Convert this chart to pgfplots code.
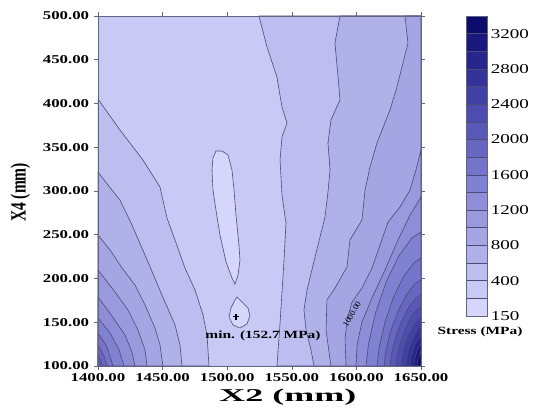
\documentclass[border=0pt]{standalone}
\usepackage{fontspec}
\setmainfont{Liberation Serif}
\usepackage{pgfplots}
\pgfplotsset{compat=1.18}

% band colours, light (150-200) to dark (3200-3400)
\definecolor{c0}{RGB}{214,214,252}
\definecolor{c1}{RGB}{201,201,246}
\definecolor{c2}{RGB}{189,189,240}
\definecolor{c3}{RGB}{177,177,234}
\definecolor{c4}{RGB}{165,165,228}
\definecolor{c5}{RGB}{153,153,222}
\definecolor{c6}{RGB}{141,141,216}
\definecolor{c7}{RGB}{129,129,209}
\definecolor{c8}{RGB}{116,116,202}
\definecolor{c9}{RGB}{103,103,194}
\definecolor{c10}{RGB}{88,88,182}
\definecolor{c11}{RGB}{77,77,175}
\definecolor{c12}{RGB}{64,64,165}
\definecolor{c13}{RGB}{51,51,153}
\definecolor{c14}{RGB}{38,38,140}
\definecolor{c15}{RGB}{25,25,125}
\definecolor{c16}{RGB}{12,12,108}
\definecolor{cline}{RGB}{75,75,115}
\definecolor{cframe}{RGB}{100,100,130}

\pgfplotsset{band/.style={fill=#1, draw=cline, line width=0.6pt}}

\begin{document}
\begin{tikzpicture}
\path[use as bounding box] (0,0) rectangle (533pt,408pt);

\begin{axis}[
    at={(98pt,42pt)}, anchor=south west,
    scale only axis, width=323pt, height=350pt,
    xmin=1400, xmax=1650, ymin=100, ymax=500,
    xtick={1400,1450,1500,1550,1600,1650},
    xticklabels={1400.00,1450.00,1500.00,1550.00,1600.00,1650.00},
    ytick={100,150,200,250,300,350,400,450,500},
    yticklabels={100.00,150.00,200.00,250.00,300.00,350.00,400.00,450.00,500.00},
    tick align=outside, major tick length=4pt,
    axis line style={cframe, line width=0.6pt},
    tick style={cframe, line width=0.6pt},
    ticklabel style={font=\fontsize{12}{12}\selectfont\bfseries, xscale=1.4},
    axis on top,
    axis background/.style={fill=c1},
    xlabel={X2 (mm)},
    xlabel style={at={(axis description cs:0.588,-0.09)}, anchor=center,
        font=\fontsize{18}{18}\selectfont\bfseries, xscale=2.0},
    ylabel={X4 (mm)},
    ylabel style={at={(axis description cs:-0.24,0.496)}, anchor=center,
        font=\fontsize{15.5}{15.5}\selectfont\bfseries, yscale=1.4},
]
% left group (rising toward 1400/100)
\addplot[band=c2] coordinates {(1400,405.1)(1417,369.7)(1434.8,335.4)(1448,304.6)(1453.4,269.1)(1459.6,244)(1467.3,212)(1475.1,186.9)(1481.3,158.3)(1484.4,135.4)(1485.9,100)(1400,100)} -- cycle;
\addplot[band=c3] coordinates {(1400,321.7)(1407.7,306.9)(1417,289.7)(1426.3,261.1)(1438.7,218.9)(1449.5,181.1)(1459.6,146.9)(1463.5,124)(1465,100)(1400,100)} -- cycle;
\addplot[band=c4] coordinates {(1400,249.7)(1409.3,232.6)(1418.6,212)(1428.6,192.6)(1436.4,169.7)(1444.1,143.4)(1448,124)(1450.3,100)(1400,100)} -- cycle;
\addplot[band=c5] coordinates {(1400,209.7)(1413.2,184.6)(1423.2,164)(1431,141.1)(1436.4,118.3)(1437.9,100)(1400,100)} -- cycle;
\addplot[band=c6] coordinates {(1400,178.9)(1410.8,157.1)(1420.9,135.4)(1426.3,116)(1428.6,100)(1400,100)} -- cycle;
\addplot[band=c7] coordinates {(1400,154.9)(1409.3,137.7)(1416.3,118.3)(1420.1,100)(1400,100)} -- cycle;
\addplot[band=c8] coordinates {(1400,137.7)(1407,121.7)(1411.6,100)(1400,100)} -- cycle;
\addplot[band=c9] coordinates {(1400,124)(1404.6,111.4)(1407,100)(1400,100)} -- cycle;
\addplot[band=c10] coordinates {(1400,112.6)(1402.3,105.7)(1403.1,100)(1400,100)} -- cycle;

% right group (rising toward 1650/100)
\addplot[band=c2] coordinates {(1524.6,500)(1530.8,464.6)(1538.5,430.3)(1542.4,396)(1546.3,377.7)(1542.4,361.7)(1540.9,335.4)(1542.4,295.4)(1545.5,263.4)(1544,221.1)(1540.9,149.1)(1538.5,100)(1650,100)(1650,500)} -- cycle;
\addplot[band=c3] coordinates {(1587.3,500)(1583.4,469.1)(1585.8,430.3)(1587.3,404)(1580.3,381.1)(1578,354.9)(1579.6,324)(1578,298.9)(1575.7,270.3)(1568,224.6)(1561.8,186.9)(1559.4,164)(1561,141.1)(1564.9,118.3)(1567.2,100)(1650,100)(1650,500)} -- cycle;
\addplot[band=c4] coordinates {(1637.6,500)(1639.9,469.1)(1635.3,441.7)(1630.7,415.4)(1626,392.6)(1615.9,354.9)(1610.5,327.4)(1606.7,301.1)(1604.3,266.9)(1595,244)(1592.7,213.1)(1583.4,189.1)(1577.2,175.4)(1576.5,141.1)(1580.3,100)(1650,100)(1650,500)} -- cycle;
\addplot[band=c5] coordinates {(1650,346.9)(1646.1,324)(1641.5,301.1)(1633.7,281.7)(1624.5,264.6)(1618.3,238.3)(1612.1,212)(1604.3,189.1)(1596.6,173.1)(1592.7,152.6)(1591.2,129.7)(1592,100)(1650,100)} -- cycle;
\addplot[band=c6] coordinates {(1650,293.1)(1641.5,272.6)(1632.2,244)(1622.1,209.7)(1612.1,177.7)(1604.3,150.3)(1600.5,124)(1599.7,100)(1650,100)} -- cycle;
\addplot[band=c7] coordinates {(1650,253.1)(1643,246.3)(1633.1,226.5)(1623.2,196.5)(1614.8,160.8)(1609.4,125.3)(1607.4,100)(1650,100)} -- cycle;
\addplot[band=c8] coordinates {(1650,223.4)(1644.4,217.9)(1636.5,202)(1628.5,177.8)(1621.9,149)(1617.5,120.4)(1615.9,100)(1650,100)} -- cycle;
\addplot[band=c9] coordinates {(1650,198.3)(1645.3,193.9)(1638.6,181.2)(1632,161.9)(1626.3,139)(1622.7,116.2)(1621.4,100)(1650,100)} -- cycle;
\addplot[band=c10] coordinates {(1650,181.1)(1646,177.5)(1640.5,167)(1634.9,151.1)(1630.2,132.2)(1627.1,113.4)(1626,100)(1650,100)} -- cycle;
\addplot[band=c11] coordinates {(1650,167.4)(1646.8,164.4)(1642.3,155.7)(1637.8,142.5)(1634,126.8)(1631.5,111.1)(1630.7,100)(1650,100)} -- cycle;
\addplot[band=c12] coordinates {(1650,154.9)(1647.4,152.4)(1643.9,145.3)(1640.2,134.6)(1637.2,121.8)(1635.2,109.1)(1634.5,100)(1650,100)} -- cycle;
\addplot[band=c13] coordinates {(1650,144.6)(1648.1,142.6)(1645.4,136.8)(1642.7,128.1)(1640.4,117.7)(1638.9,107.4)(1638.4,100)(1650,100)} -- cycle;
\addplot[band=c14] coordinates {(1650,134.3)(1648.6,132.7)(1646.6,128.3)(1644.6,121.6)(1643,113.6)(1641.9,105.7)(1641.5,100)(1650,100)} -- cycle;
\addplot[band=c15] coordinates {(1650,125.1)(1649.1,124)(1647.8,120.8)(1646.6,115.8)(1645.5,110)(1644.8,104.1)(1644.6,100)(1650,100)} -- cycle;
\addplot[band=c16] coordinates {(1650,116)(1649.5,115.3)(1648.8,113.2)(1648,110.1)(1647.4,106.4)(1647,102.6)(1646.9,100)(1650,100)} -- cycle;

% closed contours below 200 MPa
\addplot[band=c0] coordinates {(1491.3,345.7)(1496,345.7)(1500.6,341.1)(1503.7,324)(1505.3,301.1)(1506.8,272.6)(1509.1,238.3)(1509.9,221.1)(1508.4,204)(1506,193.7)(1503.7,200.6)(1499.1,218.9)(1494.4,249.7)(1491.3,278.3)(1489,301.1)(1488.2,324)(1489,337.7)} -- cycle;
\addplot[band=c0] coordinates {(1507.6,178.9)(1511.5,173.1)(1516.1,166.3)(1517.6,157.1)(1515.3,148)(1509.9,143.4)(1504.5,146.9)(1501.4,156)(1502.9,166.3)(1506,175.4)} -- cycle;

% minimum
\addplot[only marks, mark=+, mark size=3pt, black, line width=1.1pt] coordinates {(1506.8,156.3)};
\node[font=\fontsize{11}{11}\selectfont\bfseries, xscale=1.4] at (axis cs:1527.7,134.3) {min. (152.7 MPa)};
\node[font=\fontsize{8.5}{8.5}\selectfont, rotate=60, inner sep=0.5pt] at (axis cs:1596.6,159.4) {1000.00};
\end{axis}

% colour scale
\begin{axis}[
    at={(466pt,92pt)}, anchor=south west,
    scale only axis, width=21pt, height=300pt,
    xmin=0, xmax=1, ymin=0, ymax=17,
    xtick=\empty,
    ytick={0,2,4,6,8,10,12,14,16},
    yticklabels={150,400,800,1200,1600,2000,2400,2800,3200},
    yticklabel pos=right, major tick length=0pt,
    yticklabel style={font=\fontsize{13.6}{13.6}\selectfont, xscale=1.4, inner xsep=2.5pt},
    axis line style={cframe, line width=0.5pt},
    axis on top,
    xlabel={Stress (MPa)},
    xlabel style={at={(axis description cs:0.667,-0.053)}, anchor=center,
        font=\fontsize{11}{11}\selectfont\bfseries, xscale=1.4},
]
\addplot[band=c0] coordinates {(0,0)(1,0)(1,1)(0,1)} -- cycle;
\addplot[band=c1] coordinates {(0,1)(1,1)(1,2)(0,2)} -- cycle;
\addplot[band=c2] coordinates {(0,2)(1,2)(1,3)(0,3)} -- cycle;
\addplot[band=c3] coordinates {(0,3)(1,3)(1,4)(0,4)} -- cycle;
\addplot[band=c4] coordinates {(0,4)(1,4)(1,5)(0,5)} -- cycle;
\addplot[band=c5] coordinates {(0,5)(1,5)(1,6)(0,6)} -- cycle;
\addplot[band=c6] coordinates {(0,6)(1,6)(1,7)(0,7)} -- cycle;
\addplot[band=c7] coordinates {(0,7)(1,7)(1,8)(0,8)} -- cycle;
\addplot[band=c8] coordinates {(0,8)(1,8)(1,9)(0,9)} -- cycle;
\addplot[band=c9] coordinates {(0,9)(1,9)(1,10)(0,10)} -- cycle;
\addplot[band=c10] coordinates {(0,10)(1,10)(1,11)(0,11)} -- cycle;
\addplot[band=c11] coordinates {(0,11)(1,11)(1,12)(0,12)} -- cycle;
\addplot[band=c12] coordinates {(0,12)(1,12)(1,13)(0,13)} -- cycle;
\addplot[band=c13] coordinates {(0,13)(1,13)(1,14)(0,14)} -- cycle;
\addplot[band=c14] coordinates {(0,14)(1,14)(1,15)(0,15)} -- cycle;
\addplot[band=c15] coordinates {(0,15)(1,15)(1,16)(0,16)} -- cycle;
\addplot[band=c16] coordinates {(0,16)(1,16)(1,17)(0,17)} -- cycle;
\end{axis}
\end{tikzpicture}
\end{document}
